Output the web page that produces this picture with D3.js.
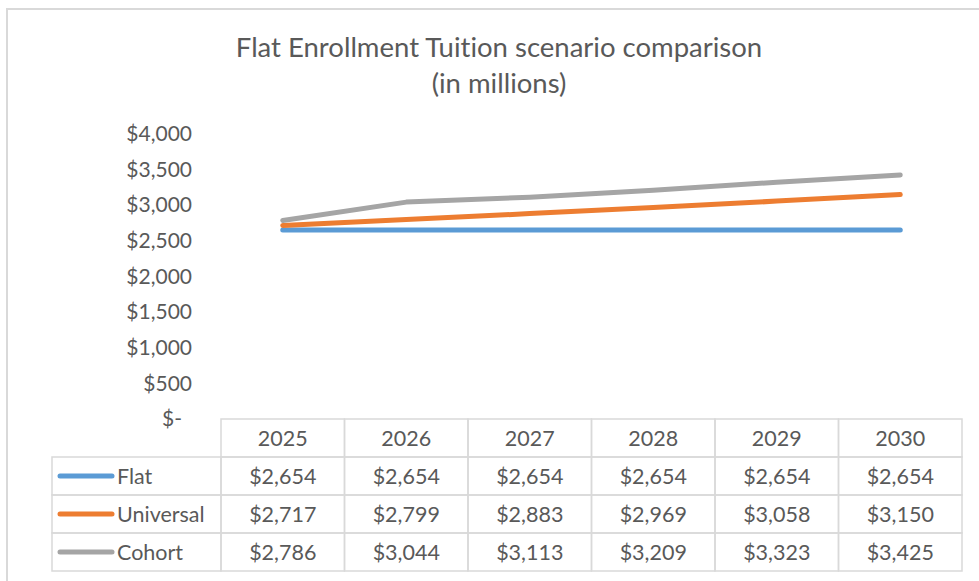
<!DOCTYPE html>
<html>
<head>
<meta charset="utf-8">
<script src="https://cdn.jsdelivr.net/npm/d3@7"></script>
<style>
  body { margin: 0; background: #fff; }
  svg { display: block; font-family: Lato, "Open Sans", sans-serif; font-variant-ligatures: none; }
</style>
</head>
<body>
<svg width="979" height="581"></svg>
<script>
const width = 979, height = 581;

const years = ["2025", "2026", "2027", "2028", "2029", "2030"];
const seriesNames = ["Flat", "Universal", "Cohort"];
const flatValues = [2654, 2654, 2654, 2654, 2654, 2654];
const universalValues = [2717, 2799, 2883, 2969, 3058, 3150];
const cohortValues = [2786, 3044, 3113, 3209, 3323, 3425];
const yTicks = [0, 500, 1000, 1500, 2000, 2500, 3000, 3500, 4000];

const colors = ["#5B9BD5", "#ED7D31", "#A5A5A5"];
const textColor = "#595959";
const gridColor = "#D9D9D9";

const series = seriesNames.map((name, i) => ({
    name,
    values: [flatValues, universalValues, cohortValues][i],
    color: colors[i]
}));

const svg = d3.select("svg");

// chart frame (only top/left visible in the crop)
svg.append("rect")
    .attr("x", 7).attr("y", 9)
    .attr("width", 990).attr("height", 600)
    .attr("fill", "none")
    .attr("stroke", gridColor)
    .attr("stroke-width", 2);

// title
svg.append("text")
    .attr("x", 499).attr("y", 57)
    .attr("text-anchor", "middle")
    .attr("font-size", "27.5px")
    .attr("fill", textColor)
    .text("Flat Enrollment Tuition scenario comparison");
svg.append("text")
    .attr("x", 499).attr("y", 93)
    .attr("text-anchor", "middle")
    .attr("font-size", "27.5px")
    .attr("fill", textColor)
    .text("(in millions)");

// scales
const tableLeft = 221, tableRight = 962;
const x = d3.scaleBand().domain(years).range([tableLeft, tableRight]);
const y = d3.scaleLinear().domain([0, 4000]).range([419, 134]);

// y axis
const yAxis = svg.append("g")
    .attr("transform", "translate(192,0)")
    .call(d3.axisLeft(y)
        .tickValues(yTicks)
        .tickSize(0)
        .tickPadding(0)
        .tickFormat(d => d === 0 ? "$-" : "$" + d3.format(",")(d)));
yAxis.select(".domain").remove();
yAxis.selectAll("text")
    .attr("font-family", "Lato, 'Open Sans', sans-serif")
    .attr("font-size", "21px")
    .attr("fill", textColor)
    .attr("dx", d => d === 0 ? -10 : 0);

// lines
const line = d3.line()
    .x((d, i) => x(years[i]) + x.bandwidth() / 2)
    .y(d => y(d));

svg.selectAll("path.series")
    .data(series)
    .join("path")
    .attr("class", "series")
    .attr("d", d => line(d.values))
    .attr("fill", "none")
    .attr("stroke", d => d.color)
    .attr("stroke-width", 5)
    .attr("stroke-linecap", "round")
    .attr("stroke-linejoin", "round");

// data table
const rowTop = 419, rowH = 38;
const legendLeft = 52;
const fontTable = "21.5px";
const table = svg.append("g");

// header cells
table.selectAll("rect.head")
    .data(years)
    .join("rect")
    .attr("class", "head")
    .attr("x", d => x(d))
    .attr("y", rowTop)
    .attr("width", x.bandwidth())
    .attr("height", rowH)
    .attr("fill", "none")
    .attr("stroke", gridColor)
    .attr("stroke-width", 1.5);

table.selectAll("text.head")
    .data(years)
    .join("text")
    .attr("class", "head")
    .attr("x", d => x(d) + x.bandwidth() / 2)
    .attr("y", rowTop + rowH / 2 + 7.5)
    .attr("text-anchor", "middle")
    .attr("font-size", fontTable)
    .attr("fill", textColor)
    .text(d => d);

const rows = table.selectAll("g.row")
    .data(series)
    .join("g")
    .attr("class", "row")
    .attr("transform", (d, i) => `translate(0,${rowTop + rowH * (i + 1)})`);

rows.append("rect")
    .attr("x", legendLeft)
    .attr("y", 0)
    .attr("width", tableLeft - legendLeft)
    .attr("height", rowH)
    .attr("fill", "none")
    .attr("stroke", gridColor)
    .attr("stroke-width", 1.5);

rows.append("line")
    .attr("x1", 60).attr("x2", 112)
    .attr("y1", rowH / 2).attr("y2", rowH / 2)
    .attr("stroke", d => d.color)
    .attr("stroke-width", 5)
    .attr("stroke-linecap", "round");

rows.append("text")
    .attr("x", 117)
    .attr("y", rowH / 2 + 7.5)
    .attr("font-size", fontTable)
    .attr("fill", textColor)
    .text(d => d.name);

rows.selectAll("rect.cell")
    .data(d => d.values)
    .join("rect")
    .attr("class", "cell")
    .attr("x", (v, i) => x(years[i]))
    .attr("y", 0)
    .attr("width", x.bandwidth())
    .attr("height", rowH)
    .attr("fill", "none")
    .attr("stroke", gridColor)
    .attr("stroke-width", 1.5);

rows.selectAll("text.cell")
    .data(d => d.values)
    .join("text")
    .attr("class", "cell")
    .attr("x", (v, i) => x(years[i]) + x.bandwidth() / 2)
    .attr("y", rowH / 2 + 7.5)
    .attr("text-anchor", "middle")
    .attr("font-size", fontTable)
    .attr("fill", textColor)
    .text(v => "$" + d3.format(",")(v));
</script>
</body>
</html>
